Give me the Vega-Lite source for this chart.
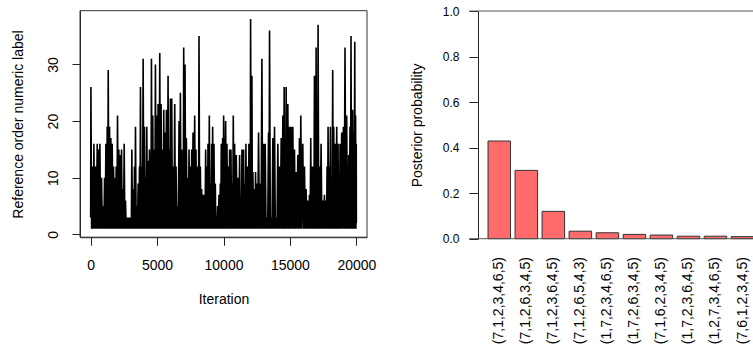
{
"$schema": "https://vega.github.io/schema/vega-lite/v6.json",
"width": 753, "height": 348,
"autosize": {"type": "none"},
"padding": 0,
"background": "white",
"config": {
  "view": {"stroke": null},
  "font": "Liberation Sans",
  "axis": {"grid": false, "labelFont": "Liberation Sans", "titleFont": "Liberation Sans", "titleFontWeight": "normal", "labelColor": "#000", "titleColor": "#000", "domainColor": "#222", "tickColor": "#222", "labelFlush": false, "labelOverlap": false}
},
"layer": [
  {
    "layer": [
      {
        "data": {"values": [
{"i":1,"v":3},{"i":22,"v":26},{"i":72,"v":1},{"i":147,"v":12},{"i":197,"v":1},{"i":247,"v":16},{"i":297,"v":1},{"i":372,"v":12},{"i":422,"v":1},{"i":498,"v":16},{"i":548,"v":1},{"i":598,"v":15},{"i":648,"v":1},{"i":698,"v":16},{"i":748,"v":1},{"i":823,"v":10},{"i":873,"v":1},{"i":948,"v":5},{"i":998,"v":1},{"i":1048,"v":10},{"i":1098,"v":1},{"i":1148,"v":16},{"i":1198,"v":1},{"i":1248,"v":19},{"i":1286,"v":1},{"i":1324,"v":29},{"i":1374,"v":1},{"i":1424,"v":19},{"i":1474,"v":1},{"i":1524,"v":17},{"i":1574,"v":1},{"i":1624,"v":16},{"i":1674,"v":1},{"i":1724,"v":12},{"i":1774,"v":1},{"i":1824,"v":10},{"i":1874,"v":1},{"i":1924,"v":12},{"i":1974,"v":1},{"i":2024,"v":21},{"i":2074,"v":1},{"i":2124,"v":15},{"i":2174,"v":1},{"i":2225,"v":14},{"i":2275,"v":1},{"i":2325,"v":15},{"i":2375,"v":1},{"i":2425,"v":8},{"i":2475,"v":1},{"i":2525,"v":16},{"i":2575,"v":1},{"i":2625,"v":6},{"i":2675,"v":1},{"i":2725,"v":3},{"i":2775,"v":1},{"i":2825,"v":3},{"i":2875,"v":1},{"i":2925,"v":3},{"i":2975,"v":1},{"i":3026,"v":3},{"i":3063,"v":1},{"i":3101,"v":15},{"i":3151,"v":1},{"i":3201,"v":8},{"i":3251,"v":1},{"i":3301,"v":12},{"i":3338,"v":1},{"i":3376,"v":19},{"i":3426,"v":1},{"i":3476,"v":5},{"i":3526,"v":1},{"i":3576,"v":9},{"i":3626,"v":1},{"i":3676,"v":12},{"i":3713,"v":1},{"i":3751,"v":26},{"i":3801,"v":1},{"i":3851,"v":12},{"i":3901,"v":1},{"i":3952,"v":31},{"i":4002,"v":1},{"i":4052,"v":19},{"i":4102,"v":1},{"i":4152,"v":10},{"i":4190,"v":1},{"i":4227,"v":19},{"i":4277,"v":1},{"i":4327,"v":13},{"i":4377,"v":1},{"i":4427,"v":15},{"i":4465,"v":1},{"i":4502,"v":10},{"i":4540,"v":1},{"i":4577,"v":31},{"i":4627,"v":1},{"i":4677,"v":21},{"i":4727,"v":1},{"i":4778,"v":15},{"i":4828,"v":1},{"i":4878,"v":30},{"i":4928,"v":1},{"i":4978,"v":21},{"i":5028,"v":1},{"i":5078,"v":23},{"i":5140,"v":1},{"i":5203,"v":32},{"i":5253,"v":1},{"i":5303,"v":23},{"i":5353,"v":1},{"i":5403,"v":15},{"i":5453,"v":1},{"i":5504,"v":22},{"i":5554,"v":1},{"i":5604,"v":18},{"i":5654,"v":1},{"i":5704,"v":22},{"i":5766,"v":1},{"i":5829,"v":28},{"i":5866,"v":1},{"i":5904,"v":15},{"i":5954,"v":1},{"i":6004,"v":24},{"i":6054,"v":1},{"i":6104,"v":24},{"i":6154,"v":1},{"i":6204,"v":12},{"i":6267,"v":1},{"i":6330,"v":23},{"i":6380,"v":1},{"i":6430,"v":12},{"i":6480,"v":1},{"i":6530,"v":5},{"i":6592,"v":1},{"i":6655,"v":20},{"i":6705,"v":1},{"i":6755,"v":25},{"i":6805,"v":1},{"i":6855,"v":15},{"i":6892,"v":1},{"i":6930,"v":12},{"i":6967,"v":1},{"i":7005,"v":33},{"i":7055,"v":1},{"i":7105,"v":30},{"i":7155,"v":1},{"i":7205,"v":17},{"i":7255,"v":1},{"i":7306,"v":10},{"i":7356,"v":1},{"i":7406,"v":15},{"i":7456,"v":1},{"i":7506,"v":12},{"i":7556,"v":1},{"i":7606,"v":15},{"i":7656,"v":1},{"i":7706,"v":18},{"i":7768,"v":1},{"i":7831,"v":21},{"i":7881,"v":1},{"i":7931,"v":15},{"i":7968,"v":1},{"i":8006,"v":12},{"i":8044,"v":1},{"i":8082,"v":11},{"i":8120,"v":1},{"i":8157,"v":35},{"i":8207,"v":1},{"i":8257,"v":12},{"i":8307,"v":1},{"i":8357,"v":8},{"i":8407,"v":1},{"i":8457,"v":7},{"i":8507,"v":1},{"i":8557,"v":7},{"i":8607,"v":1},{"i":8657,"v":15},{"i":8707,"v":1},{"i":8757,"v":12},{"i":8795,"v":1},{"i":8832,"v":16},{"i":8882,"v":1},{"i":8932,"v":21},{"i":8970,"v":1},{"i":9008,"v":9},{"i":9058,"v":1},{"i":9108,"v":16},{"i":9145,"v":1},{"i":9183,"v":19},{"i":9233,"v":1},{"i":9283,"v":16},{"i":9333,"v":1},{"i":9384,"v":9},{"i":9421,"v":1},{"i":9459,"v":3},{"i":9509,"v":1},{"i":9559,"v":5},{"i":9609,"v":1},{"i":9659,"v":7},{"i":9709,"v":1},{"i":9759,"v":9},{"i":9796,"v":1},{"i":9834,"v":16},{"i":9884,"v":1},{"i":9934,"v":17},{"i":9971,"v":1},{"i":10009,"v":21},{"i":10085,"v":1},{"i":10161,"v":20},{"i":10211,"v":1},{"i":10261,"v":16},{"i":10311,"v":1},{"i":10361,"v":12},{"i":10411,"v":1},{"i":10461,"v":15},{"i":10511,"v":1},{"i":10561,"v":15},{"i":10611,"v":1},{"i":10661,"v":9},{"i":10698,"v":1},{"i":10736,"v":21},{"i":10786,"v":1},{"i":10836,"v":16},{"i":10899,"v":1},{"i":10962,"v":14},{"i":11024,"v":1},{"i":11087,"v":10},{"i":11150,"v":1},{"i":11212,"v":14},{"i":11262,"v":1},{"i":11312,"v":6},{"i":11350,"v":1},{"i":11387,"v":15},{"i":11450,"v":1},{"i":11512,"v":15},{"i":11562,"v":1},{"i":11612,"v":9},{"i":11650,"v":1},{"i":11687,"v":16},{"i":11750,"v":1},{"i":11813,"v":12},{"i":11863,"v":1},{"i":11913,"v":16},{"i":11950,"v":1},{"i":11988,"v":10},{"i":12013,"v":1},{"i":12038,"v":38},{"i":12088,"v":1},{"i":12138,"v":28},{"i":12175,"v":1},{"i":12213,"v":11},{"i":12263,"v":1},{"i":12313,"v":8},{"i":12363,"v":1},{"i":12413,"v":11},{"i":12463,"v":1},{"i":12513,"v":9},{"i":12575,"v":1},{"i":12638,"v":18},{"i":12701,"v":1},{"i":12764,"v":9},{"i":12826,"v":1},{"i":12889,"v":31},{"i":12951,"v":1},{"i":13014,"v":16},{"i":13076,"v":1},{"i":13139,"v":16},{"i":13201,"v":1},{"i":13264,"v":3},{"i":13326,"v":1},{"i":13389,"v":18},{"i":13427,"v":1},{"i":13465,"v":36},{"i":13527,"v":1},{"i":13590,"v":3},{"i":13652,"v":1},{"i":13715,"v":17},{"i":13777,"v":1},{"i":13840,"v":19},{"i":13902,"v":1},{"i":13965,"v":3},{"i":14027,"v":1},{"i":14090,"v":16},{"i":14152,"v":1},{"i":14215,"v":12},{"i":14278,"v":1},{"i":14341,"v":17},{"i":14403,"v":1},{"i":14466,"v":21},{"i":14516,"v":1},{"i":14566,"v":26},{"i":14603,"v":1},{"i":14641,"v":12},{"i":14678,"v":1},{"i":14716,"v":26},{"i":14778,"v":1},{"i":14841,"v":23},{"i":14903,"v":1},{"i":14966,"v":19},{"i":15028,"v":1},{"i":15091,"v":19},{"i":15154,"v":1},{"i":15217,"v":19},{"i":15279,"v":1},{"i":15342,"v":15},{"i":15404,"v":1},{"i":15467,"v":11},{"i":15529,"v":1},{"i":15592,"v":14},{"i":15654,"v":1},{"i":15717,"v":17},{"i":15767,"v":1},{"i":15817,"v":21},{"i":15892,"v":1},{"i":15968,"v":16},{"i":16030,"v":1},{"i":16093,"v":12},{"i":16155,"v":1},{"i":16218,"v":8},{"i":16280,"v":1},{"i":16343,"v":6},{"i":16405,"v":1},{"i":16468,"v":7},{"i":16518,"v":1},{"i":16568,"v":17},{"i":16605,"v":1},{"i":16643,"v":12},{"i":16705,"v":1},{"i":16768,"v":12},{"i":16806,"v":1},{"i":16844,"v":28},{"i":16881,"v":1},{"i":16919,"v":21},{"i":16944,"v":1},{"i":16969,"v":33},{"i":17006,"v":1},{"i":17044,"v":15},{"i":17081,"v":1},{"i":17119,"v":37},{"i":17169,"v":1},{"i":17219,"v":12},{"i":17281,"v":1},{"i":17344,"v":16},{"i":17406,"v":1},{"i":17469,"v":6},{"i":17531,"v":1},{"i":17594,"v":7},{"i":17657,"v":1},{"i":17720,"v":6},{"i":17757,"v":1},{"i":17795,"v":12},{"i":17832,"v":1},{"i":17870,"v":19},{"i":17920,"v":1},{"i":17970,"v":12},{"i":18007,"v":1},{"i":18045,"v":19},{"i":18082,"v":1},{"i":18120,"v":9},{"i":18170,"v":1},{"i":18220,"v":29},{"i":18257,"v":1},{"i":18295,"v":19},{"i":18357,"v":1},{"i":18420,"v":16},{"i":18470,"v":1},{"i":18521,"v":19},{"i":18571,"v":1},{"i":18621,"v":16},{"i":18658,"v":1},{"i":18696,"v":9},{"i":18733,"v":1},{"i":18771,"v":16},{"i":18833,"v":1},{"i":18896,"v":18},{"i":18958,"v":1},{"i":19021,"v":19},{"i":19083,"v":1},{"i":19146,"v":33},{"i":19208,"v":1},{"i":19271,"v":21},{"i":19321,"v":1},{"i":19371,"v":12},{"i":19396,"v":1},{"i":19421,"v":14},{"i":19471,"v":1},{"i":19521,"v":19},{"i":19559,"v":1},{"i":19597,"v":35},{"i":19634,"v":1},{"i":19672,"v":16},{"i":19697,"v":1},{"i":19722,"v":22},{"i":19759,"v":1},{"i":19797,"v":18},{"i":19838,"v":1},{"i":19880,"v":34},{"i":19910,"v":1},{"i":19940,"v":21},{"i":19965,"v":1},{"i":19990,"v":16},{"i":20000,"v":2}
        ]},
        "mark": {"type": "line", "color": "#000", "strokeWidth": 1.6},
        "encoding": {
          "x": {"field": "i", "type": "quantitative",
                "scale": {"domain": [-800, 20800], "range": [80, 367], "nice": false, "zero": false},
                "axis": {"orient": "bottom", "offset": -110.8, "values": [0, 5000, 10000, 15000, 20000], "format": "d", "tickSize": 8, "labelPadding": 13, "labelFontSize": 14, "title": "Iteration", "titleFontSize": 14, "titleX": 223.5, "titleY": 66, "titleBaseline": "alphabetic", "titleAlign": "center"}},
          "y": {"field": "v", "type": "quantitative",
                "scale": {"domain": [-0.48, 39.48], "range": [237.2, 10.7], "nice": false, "zero": false},
                "axis": {"orient": "left", "offset": -80, "values": [0, 10, 20, 30], "format": "d", "tickSize": 8, "labelAngle": 270, "labelAlign": "center", "labelBaseline": "alphabetic", "labelPadding": 15, "labelFontSize": 14, "title": "Reference order numeric label", "titleFontSize": 14, "titleAngle": 270, "titleX": -57.3, "titleY": 124, "titleBaseline": "alphabetic", "titleAlign": "center"}}
        }
      },
      {
        "data": {"values": [{"box": "plot"}]},
        "mark": {"type": "rect", "fill": null, "stroke": "#333", "strokeWidth": 1},
        "encoding": {
          "x": {"datum": -800, "type": "quantitative"},
          "x2": {"datum": 20800},
          "y": {"datum": -0.48, "type": "quantitative"},
          "y2": {"datum": 39.48}
        }
      }
    ]
  },
  {
    "layer": [
      {
        "data": {"values": [
          {"perm": "(7,1,2,3,4,6,5)", "prob": 0.429},
          {"perm": "(7,1,2,6,3,4,5)", "prob": 0.300},
          {"perm": "(7,1,2,3,6,4,5)", "prob": 0.120},
          {"perm": "(7,1,2,6,5,4,3)", "prob": 0.033},
          {"perm": "(1,7,2,3,4,6,5)", "prob": 0.026},
          {"perm": "(1,7,2,6,3,4,5)", "prob": 0.019},
          {"perm": "(7,1,6,2,3,4,5)", "prob": 0.016},
          {"perm": "(1,7,2,3,6,4,5)", "prob": 0.011},
          {"perm": "(1,2,7,3,4,6,5)", "prob": 0.011},
          {"perm": "(7,6,1,2,3,4,5)", "prob": 0.009}
        ]},
        "mark": {"type": "bar", "fill": "#FF6A6A", "stroke": "#333", "strokeWidth": 1},
        "encoding": {
          "x": {"field": "perm", "type": "nominal", "sort": null,
                "scale": {"type": "band", "range": [477.4, 764.4], "paddingInner": 0.1667, "paddingOuter": 0.393},
                "axis": {"orient": "bottom", "offset": -109.3, "domain": false, "ticks": false, "tickSize": 0, "labelAngle": 270, "labelAlign": "right", "labelBaseline": "middle", "labelPadding": 17.8, "labelFontSize": 14, "labelLimit": 300, "title": null}},
          "y": {"field": "prob", "type": "quantitative",
                "scale": {"domain": [0, 1], "range": [238.7, 11], "nice": false, "zero": true},
                "axis": {"orient": "left", "offset": -478, "values": [0, 0.2, 0.4, 0.6, 0.8, 1], "format": ".1f", "tickSize": 9, "labelPadding": 10, "labelFontSize": 12, "labelAlign": "right", "labelBaseline": "middle", "title": "Posterior probability", "titleFontSize": 14, "titleAngle": 270, "titleX": -57, "titleY": 124.9, "titleBaseline": "alphabetic", "titleAlign": "center"}}
        }
      },
      {
        "data": {"values": [{"level": 0}, {"level": 1}]},
        "mark": {"type": "rule", "color": "#555", "strokeWidth": 1},
        "encoding": {
          "x": {"datum": 0, "type": "quantitative", "scale": {"domain": [0, 1], "range": [469, 800], "nice": false, "zero": false}, "axis": null},
          "x2": {"datum": 1},
          "y": {"field": "level", "type": "quantitative"}
        }
      }
    ],
    "resolve": {"scale": {"x": "independent"}}
  }
],
"resolve": {"scale": {"x": "independent", "y": "independent"}}
}
